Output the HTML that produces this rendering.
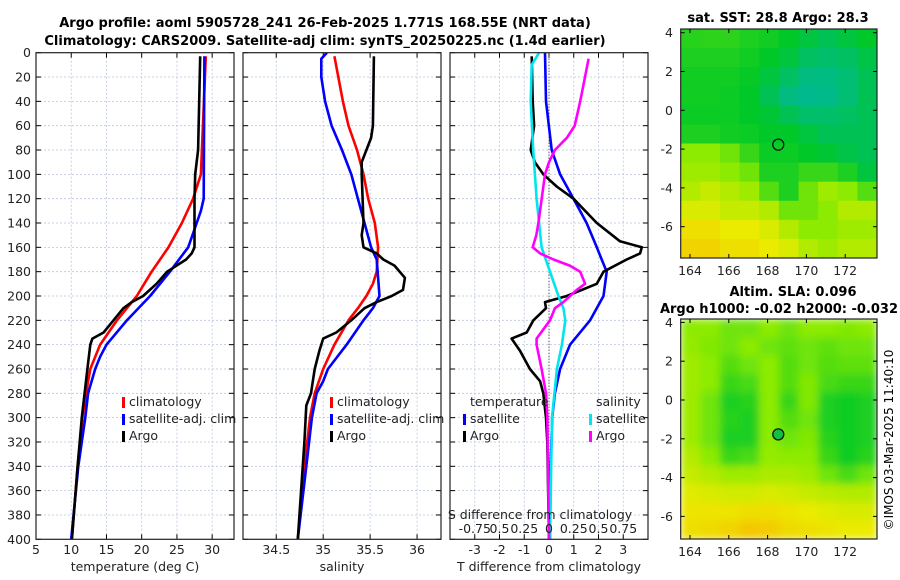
<!DOCTYPE html>
<html><head><meta charset="utf-8">
<style>
html,body{margin:0;padding:0;background:#fff;}
svg{display:block;font-family:"DejaVu Sans","Liberation Sans",sans-serif;}
</style></head>
<body>
<svg id="chart" width="900" height="580" viewBox="0 0 900 580" xmlns="http://www.w3.org/2000/svg">
<defs>
<filter id="blur1" x="0" y="0" width="1" height="1"><feGaussianBlur stdDeviation="4"/></filter>
<clipPath id="clipM1"><rect x="680.7" y="29" width="196.3" height="229"/></clipPath>
<clipPath id="clipM2"><rect x="680.7" y="319" width="196.3" height="220"/></clipPath>
</defs>
<text x="325" y="27" font-size="13" font-weight="bold" text-anchor="middle">Argo profile: aoml 5905728_241 26-Feb-2025 1.771S 168.55E (NRT data)</text>
<text x="325" y="45" font-size="13" font-weight="bold" text-anchor="middle">Climatology: CARS2009. Satellite-adj clim: synTS_20250225.nc (1.4d earlier)</text>
<text x="778" y="22" font-size="13" font-weight="bold" text-anchor="middle">sat. SST: 28.8 Argo: 28.3</text>
<text x="793" y="296" font-size="13" font-weight="bold" text-anchor="middle">Altim. SLA: 0.096</text>
<text x="779" y="313" font-size="13" font-weight="bold" text-anchor="middle">Argo h1000: -0.02 h2000: -0.032</text>
<text x="0" y="0" font-size="12" text-anchor="middle" transform="translate(893,440) rotate(-90)">©IMOS 03-Mar-2025 11:40:10</text>
<g id="layer"></g>
</svg>
<script>
// ---------- data ----------
const depthTicks = [0,20,40,60,80,100,120,140,160,180,200,220,240,260,280,300,320,340,360,380,400];
const tempTicks = [5,10,15,20,25,30];
const salTicks = [34.5,35,35.5,36];
const tdiffTicks = [-3,-2,-1,0,1,2,3];
const sdiffTickLabels = ["-0.75","0.5","0.25","0","0.25","0.5","0.75"];
const sdiffTickValues = [-0.75,-0.5,-0.25,0,0.25,0.5,0.75];

const climTDepth = [3,100,120,140,160,180,200,220,240,260,280,300,340,400];
const climT = [29.1,28.4,27.3,25.7,23.8,21.4,19.3,16.5,14.1,12.7,12.1,11.6,10.9,10.1];
const satTDepth = [3,120,130,140,160,180,200,220,240,250,260,280,300,340,400];
const satT = [28.9,28.8,28.4,27.8,26.6,24.0,21.2,17.9,15.0,14.1,13.4,12.4,12.0,11.0,10.0];
const argoTDepth = [3,80,100,120,160,165,170,180,190,200,205,210,220,230,235,240,260,280,300,340,400];
const argoT = [28.3,28.0,27.6,27.5,27.5,27.1,26.3,23.6,22.1,20.2,18.6,17.4,16.0,14.6,13.0,12.7,12.3,11.9,11.5,10.9,10.1];

const climSDepth = [3,40,60,80,100,120,140,160,180,190,200,210,220,240,260,280,300,340,400];
const climS = [35.12,35.21,35.27,35.36,35.43,35.48,35.55,35.585,35.57,35.53,35.46,35.37,35.27,35.12,35.0,34.91,34.86,34.80,34.73];
const satSDepth = [0,5,20,40,60,80,100,120,140,160,170,200,210,220,240,260,270,280,300,340,400];
const satS = [35.04,34.98,34.98,35.02,35.09,35.2,35.3,35.37,35.44,35.51,35.57,35.60,35.53,35.43,35.25,35.05,35.0,34.93,34.88,34.82,34.73];
const argoSDepth = [3,60,70,80,90,100,140,150,160,165,170,175,185,195,200,205,210,220,230,235,245,260,280,290,320,400];
const argoS = [35.54,35.53,35.51,35.46,35.41,35.41,35.43,35.41,35.43,35.57,35.64,35.76,35.87,35.85,35.73,35.57,35.44,35.30,35.14,35.0,34.96,34.91,34.87,34.82,34.8,34.73];

const satTdiffDepth = [0,40,80,100,120,140,160,170,180,200,220,240,260,280,300,340,400];
const satTdiff = [-0.16,-0.12,0.11,0.45,0.99,1.52,1.93,2.13,2.33,2.2,1.66,0.85,0.45,0.24,0.13,0.07,0.04];
const argoTdiffDepth = [3,40,60,80,90,100,110,120,140,155,160,165,170,180,190,200,205,210,220,230,235,245,260,270,280,300,320,400];
const argoTdiff = [-0.7,-0.66,-0.6,-0.74,-0.57,-0.23,0.31,0.99,1.93,2.87,3.75,3.68,3.14,2.2,1.93,0.72,-0.16,-0.12,-0.63,-0.9,-1.51,-1.17,-0.77,-0.36,-0.23,-0.12,-0.07,0];
const satSdiffDepth = [0,10,40,80,120,160,180,200,210,220,240,260,300,400];
const satSdiff = [-0.1,-0.175,-0.185,-0.16,-0.125,-0.075,0.01,0.095,0.145,0.165,0.13,0.08,0.03,0.01];
const argoSdiffDepth = [5,40,60,70,80,90,100,140,150,160,165,170,175,180,190,195,205,210,220,235,240,260,280,300,400];
const argoSdiff = [0.4,0.315,0.26,0.18,0.06,0,-0.04,-0.107,-0.128,-0.165,-0.09,0.045,0.21,0.315,0.365,0.28,0.145,0.06,0.01,-0.125,-0.125,-0.075,-0.03,-0.017,0];

const sstGrid = [
[0.32,0.33,0.33,0.3,0.28,0.25,0.2,0.15,0.2,0.25],
[0.3,0.3,0.3,0.28,0.25,0.2,0.12,0.1,0.12,0.18],
[0.28,0.28,0.28,0.26,0.2,0.12,0.05,0.05,0.08,0.15],
[0.28,0.28,0.27,0.25,0.15,0.05,0.02,0.03,0.08,0.15],
[0.27,0.27,0.27,0.25,0.22,0.15,0.1,0.1,0.12,0.15],
[0.3,0.3,0.28,0.27,0.25,0.25,0.2,0.15,0.15,0.15],
[0.5,0.5,0.45,0.35,0.27,0.27,0.25,0.22,0.18,0.15],
[0.55,0.55,0.5,0.45,0.3,0.3,0.35,0.35,0.3,0.2],
[0.6,0.65,0.6,0.55,0.4,0.3,0.45,0.55,0.5,0.4],
[0.7,0.7,0.65,0.65,0.6,0.45,0.45,0.5,0.6,0.6],
[0.8,0.8,0.75,0.75,0.7,0.6,0.5,0.5,0.55,0.55],
[0.85,0.85,0.8,0.8,0.75,0.7,0.6,0.55,0.6,0.6]];
const slaGrid = [
[0.5,0.5,0.45,0.45,0.5,0.45,0.5,0.5,0.48,0.5],
[0.52,0.48,0.45,0.5,0.45,0.42,0.45,0.42,0.45,0.45],
[0.55,0.5,0.4,0.45,0.5,0.4,0.45,0.4,0.42,0.42],
[0.55,0.5,0.35,0.38,0.5,0.4,0.48,0.38,0.35,0.35],
[0.55,0.45,0.3,0.32,0.5,0.35,0.48,0.3,0.28,0.3],
[0.55,0.45,0.32,0.3,0.5,0.4,0.45,0.3,0.28,0.3],
[0.55,0.45,0.3,0.3,0.5,0.45,0.48,0.32,0.28,0.3],
[0.6,0.5,0.35,0.38,0.52,0.5,0.5,0.35,0.28,0.32],
[0.65,0.6,0.55,0.55,0.58,0.58,0.55,0.45,0.38,0.45],
[0.72,0.7,0.68,0.68,0.7,0.68,0.65,0.62,0.6,0.6],
[0.78,0.78,0.78,0.8,0.8,0.78,0.75,0.72,0.7,0.7],
[0.8,0.82,0.85,0.9,0.88,0.82,0.8,0.78,0.75,0.75]];
const lonTicks = [164,166,168,170,172];
const latTicks = [4,2,0,-2,-4,-6];
const argoLon = 168.55, argoLat = -1.771;

// ---------- drawing ----------
const NS = "http://www.w3.org/2000/svg";
const layer = document.getElementById('layer');
function mk(tag, attrs, parent){ const e=document.createElementNS(NS,tag); for(const k in attrs) e.setAttribute(k,attrs[k]); (parent||layer).appendChild(e); return e; }
const yTop=52.7, yBot=539.3;
const yScale = d => yTop + d/400*(yBot-yTop);
const SFACTOR = 4;
const panels = [
  {name:'temperature',x0:36,x1:234,min:5,max:33.1,ticks:tempTicks,label:'temperature (deg C)'},
  {name:'salinity',x0:243,x1:441,min:34.146,max:36.255,ticks:salTicks,label:'salinity'},
  {name:'difference',x0:450,x1:648,min:-4,max:4,ticks:tdiffTicks,label:'T difference from climatology'}];
function xScale(p,v){ return p.x0 + (v-p.min)/(p.max-p.min)*(p.x1-p.x0); }

panels.forEach((p,i)=>{
  const g = mk('g',{});
  
  
  p.ticks.forEach(t=>{
    const x=xScale(p,t);
    const gl=mk('line',{x1:x,x2:x,y1:yTop,y2:yBot,stroke:'#b8c4dc','stroke-width':0.8,'stroke-dasharray':'2,2'},g);
    
    
    mk('line',{x1:x,x2:x,y1:yBot,y2:yBot-5,stroke:'#000'},g);
    mk('line',{x1:x,x2:x,y1:yTop,y2:yTop+5,stroke:'#000'},g);
    const tl=mk('text',{x:x,y:554,'font-size':12.5,'text-anchor':'middle',fill:'#222'},g);
    tl.textContent=String(t);
    
    
  });
  depthTicks.forEach(d=>{
    const y=yScale(d);
    if(d>0&&d<400) mk('line',{x1:p.x0,x2:p.x1,y1:y,y2:y,stroke:'#b8c4dc','stroke-width':0.8,'stroke-dasharray':'2,2'},g);
    mk('line',{x1:p.x0,x2:p.x0+5,y1:y,y2:y,stroke:'#000'},g);
    mk('line',{x1:p.x1,x2:p.x1-5,y1:y,y2:y,stroke:'#000'},g);
    if(i===0){
      const tl=mk('text',{x:31,y:y+4.5,'font-size':12.5,'text-anchor':'end',fill:'#222'},g);
      tl.textContent=String(d);
      
      
    }
  });
  const ax=mk('text',{x:(p.x0+p.x1)/2,y:571,'font-size':12.5,'text-anchor':'middle',fill:'#222'},g);
  ax.textContent=p.label;
  
  
});
const zl=mk('line',{x1:xScale(panels[2],0),x2:xScale(panels[2],0),y1:yTop,y2:yBot,stroke:'#333','stroke-width':1,'stroke-dasharray':'1,2'});



function series(p, vals, depths, color, name, factor){
  const pts = vals.map((v,k)=> xScale(p,v*(factor||1)).toFixed(1)+','+yScale(depths[k]).toFixed(1)).join(' ');
  const pl = mk('polyline',{points:pts,fill:'none',stroke:color,'stroke-width':2.6,'stroke-linejoin':'round'});
  
  
}
series(panels[0],climT,climTDepth,'#ff0000','temp-climatology-line');
series(panels[0],satT,satTDepth,'#0000ff','temp-satellite-line');
series(panels[0],argoT,argoTDepth,'#000000','temp-argo-line');
series(panels[1],climS,climSDepth,'#ff0000','sal-climatology-line');
series(panels[1],satS,satSDepth,'#0000ff','sal-satellite-line');
series(panels[1],argoS,argoSDepth,'#000000','sal-argo-line');
series(panels[2],satTdiff,satTdiffDepth,'#0000ff','tdiff-satellite-line');
series(panels[2],argoTdiff,argoTdiffDepth,'#000000','tdiff-argo-line');
series(panels[2],satSdiff,satSdiffDepth,'#00e5ee','sdiff-satellite-line',SFACTOR);
series(panels[2],argoSdiff,argoSdiffDepth,'#ff00ff','sdiff-argo-line',SFACTOR);

panels.forEach(p=>{
  const r=mk('rect',{x:p.x0,y:yTop,width:p.x1-p.x0,height:yBot-yTop,fill:'none',stroke:'#222','stroke-width':1.2});
  
  
});

function legend(x,y,color,text,name){
  const g=mk('g',{});
  
  
  mk('rect',{x:x,y:y-9,width:3,height:11,fill:color},g);
  const t=mk('text',{x:x+7,y:y,'font-size':12.5,fill:'#222'},g);
  t.textContent=text;
}
legend(122,406,'#ff0000','climatology','legend-climatology');
legend(122,423,'#0000ff','satellite-adj. clim','legend-satellite');
legend(122,440,'#000000','Argo','legend-argo');
legend(330,406,'#ff0000','climatology','legend-climatology-sal');
legend(330,423,'#0000ff','satellite-adj. clim','legend-satellite-sal');
legend(330,440,'#000000','Argo','legend-argo-sal');
const lt=mk('text',{x:470,y:406,'font-size':12.5,fill:'#222'}); lt.textContent='temperature';


const ls=mk('text',{x:596,y:406,'font-size':12.5,fill:'#222'}); ls.textContent='salinity';


legend(463,423,'#0000ff','satellite','legend-tdiff-satellite');
legend(463,440,'#000000','Argo','legend-tdiff-argo');
legend(589,423,'#00e5ee','satellite','legend-sdiff-satellite');
legend(589,440,'#ff00ff','Argo','legend-sdiff-argo');
const st=mk('text',{x:540,y:519,'font-size':12.5,'text-anchor':'middle',fill:'#222'}); st.textContent='S difference from climatology';


sdiffTickValues.forEach((v,k)=>{
  const t=mk('text',{x:xScale(panels[2],v*SFACTOR),y:533,'font-size':12.5,'text-anchor':'middle',fill:'#222'});
  t.textContent=sdiffTickLabels[k];
  
  
});

function cmap(v){
  const stops=[[0,[0,185,150]],[0.25,[0,200,40]],[0.5,[140,235,0]],[0.75,[235,235,0]],[1,[250,175,0]]];
  for(let i=1;i<stops.length;i++){ if(v<=stops[i][0]){ const a=stops[i-1],b=stops[i]; const f=(v-a[0])/(b[0]-a[0]); const c=a[1].map((x,j)=>Math.round(x+(b[1][j]-x)*f)); return 'rgb('+c.join(',')+')'; } }
  return 'rgb(250,175,0)';
}
function drawMap(grid, top, bot, lat0y, clip, name, blur, filled){
  const left=680.7, right=877;
  const lonX = lon => 690 + (lon-164)*19.4;
  const latY = lat => lat0y - lat*19.4;
  const g=mk('g',{'clip-path':'url(#'+clip+')'});
  
  
  const inner=mk('g',blur?{filter:'url(#blur1)'}:{},g);
  const rows=grid.length, cols=grid[0].length;
  const cw=(right-left)/cols, ch=(bot-top)/rows;
  grid.forEach((row,r)=>row.forEach((v,c)=>{
    const cell=mk('rect',{x:left+c*cw,y:top+r*ch,width:cw+0.5,height:ch+0.5,fill:cmap(v)},inner);
    
    
  }));
  const frame=mk('rect',{x:left,y:top,width:right-left,height:bot-top,fill:'none',stroke:'#222','stroke-width':1.2});
  
  
  lonTicks.forEach(l=>{
    const x=lonX(l);
    mk('line',{x1:x,x2:x,y1:bot,y2:bot-4,stroke:'#000'});
    mk('line',{x1:x,x2:x,y1:top,y2:top+4,stroke:'#000'});
    const t=mk('text',{x:x,y:bot+17,'font-size':12.5,'text-anchor':'middle',fill:'#222'});
    t.textContent=String(l);
    
    
  });
  latTicks.forEach(l=>{
    const y=latY(l);
    mk('line',{x1:left,x2:left+4,y1:y,y2:y,stroke:'#000'});
    mk('line',{x1:right,x2:right-4,y1:y,y2:y,stroke:'#000'});
    const t=mk('text',{x:673,y:y+4.5,'font-size':12.5,'text-anchor':'end',fill:'#222'});
    t.textContent=String(l);
    
    
  });
  const c=mk('circle',{cx:lonX(argoLon),cy:latY(argoLat),r:5.5,fill:filled?'#10c040':'none',stroke:'#111','stroke-width':1.3});
  
  
}
drawMap(sstGrid,29,258,110.3,'clipM1','sst-map',false,false);
drawMap(slaGrid,319,539,400,'clipM2','sla-map',true,true);
</script>
</body></html>
